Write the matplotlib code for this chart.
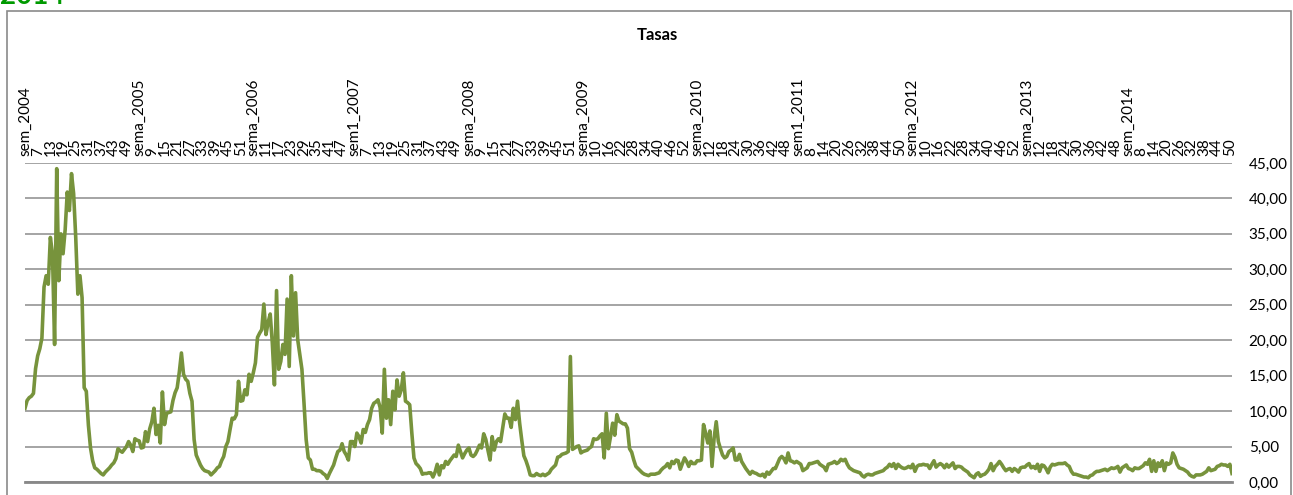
import numpy as np
import matplotlib.pyplot as plt
from matplotlib.patches import Rectangle
from matplotlib.ticker import FuncFormatter

# weekly rates, one block per year label on the axis
tasas_2004 = [10.4, 11.5, 11.9, 12.1, 12.5, 16.0, 17.8, 18.8, 20.3, 27.5,
              29.1, 27.9, 34.5, 32.2, 19.4, 44.2, 28.4, 35.0, 32.2, 35.6,
              40.9, 38.3, 43.5, 40.7, 34.5, 26.5, 29.1, 26.0, 13.3, 12.8,
              8.0, 4.8, 3.0, 2.0, 1.8, 1.5, 1.2, 1.0, 1.4, 1.7,
              2.0, 2.4, 2.7, 3.3, 4.7, 4.4, 4.2, 4.6, 5.0, 5.7,
              5.2, 4.3, 6.1, 5.9]
tasas_2005 = [5.8, 4.8, 4.9, 7.1, 5.7, 7.5, 8.5, 10.4, 6.7, 8.0,
              5.5, 12.7, 8.1, 9.7, 9.8, 9.9, 11.5, 12.6, 13.3, 15.5,
              18.2, 15.2, 14.5, 14.2, 12.5, 11.4, 6.0, 3.8, 3.1, 2.4,
              1.9, 1.6, 1.5, 1.4, 1.0, 1.3, 1.6, 2.0, 2.2, 3.0,
              3.6, 5.0, 5.7, 7.4, 9.0, 8.9, 9.5, 14.2, 11.4, 11.5,
              13.0, 12.3, 15.2, 14.2]
tasas_2006 = [15.4, 16.8, 20.4, 21.0, 21.5, 25.1, 20.8, 22.5, 23.7, 19.6,
              13.7, 27.0, 15.9, 17.0, 19.4, 18.0, 25.8, 16.3, 29.1, 20.6,
              26.7, 20.1, 18.0, 15.9, 11.1, 6.0, 3.4, 3.1, 1.8, 1.8,
              1.6, 1.6, 1.5, 1.2, 1.0, 0.5, 1.2, 1.8, 2.4, 3.4,
              4.3, 4.5, 5.4, 4.3, 3.8, 3.1, 5.7, 5.7]
tasas_2007 = [5.0, 6.9, 6.4, 5.5, 7.4, 7.0, 8.1, 8.8, 10.4, 11.1,
              11.3, 11.6, 10.5, 6.9, 15.9, 9.0, 11.6, 8.1, 12.8, 10.2,
              14.4, 12.1, 13.0, 15.4, 11.4, 11.2, 10.9, 6.9, 3.4, 2.6,
              2.3, 1.9, 1.1, 1.2, 1.2, 1.3, 1.3, 0.7, 1.4, 2.5,
              1.0, 2.3, 2.0, 2.9, 2.5, 3.0, 3.4, 3.8, 3.6, 5.2,
              4.3, 3.4, 4.0, 4.5]
tasas_2008 = [4.8, 3.8, 3.6, 3.9, 4.5, 5.2, 4.8, 6.8, 6.0, 4.5,
              3.1, 6.4, 4.5, 5.7, 6.1, 5.7, 7.6, 9.6, 9.0, 9.0,
              7.7, 10.4, 8.8, 11.4, 8.3, 5.9, 3.7, 3.0, 2.1, 1.0,
              0.9, 0.9, 1.2, 1.0, 0.9, 1.1, 0.9, 1.1, 1.3, 1.8,
              2.1, 2.4, 3.5, 3.6, 3.9, 4.0, 4.1, 4.3, 17.7, 4.6,
              4.8, 5.0, 5.1, 4.1]
tasas_2009 = [4.3, 4.4, 4.5, 4.8, 5.0, 6.1, 6.0, 6.1, 6.5, 6.8,
              3.4, 9.7, 4.7, 6.4, 8.3, 6.6, 9.5, 8.6, 8.4, 8.2,
              8.2, 7.6, 4.7, 4.2, 3.1, 2.2, 1.9, 1.6, 1.3, 1.1,
              1.0, 0.9, 1.1, 1.1, 1.1, 1.2, 1.3, 1.7, 2.0, 2.2,
              2.6, 2.0, 2.9, 2.6, 3.1, 3.0, 1.8, 2.6, 3.4, 2.9,
              2.2, 2.9, 2.6, 2.6]
tasas_2010 = [3.0, 3.0, 3.1, 8.1, 6.9, 5.5, 7.2, 2.2, 6.2, 8.5,
              5.7, 4.7, 3.8, 3.4, 3.6, 4.3, 4.5, 4.8, 3.1, 3.1,
              3.9, 2.9, 2.4, 1.9, 1.5, 1.1, 1.5, 1.3, 1.2, 1.0,
              0.9, 1.1, 0.7, 1.4, 1.1, 1.5, 1.9, 1.9, 2.6, 3.3,
              3.6, 3.3, 2.7, 4.1, 3.0, 2.9, 2.7, 2.9]
tasas_2011 = [2.7, 2.5, 1.6, 1.8, 2.0, 2.6, 2.6, 2.7, 2.8, 2.9,
              2.5, 2.3, 2.1, 1.6, 2.5, 2.6, 2.7, 2.9, 2.6, 2.8,
              3.2, 3.0, 3.2, 2.5, 2.0, 1.8, 1.6, 1.5, 1.4, 1.3,
              0.9, 0.7, 1.0, 1.1, 1.0, 1.0, 1.2, 1.3, 1.4, 1.5,
              1.6, 1.9, 2.1, 2.5, 2.2, 2.6, 1.9, 2.5, 2.2, 2.0,
              1.9, 2.0, 2.2, 2.0]
tasas_2012 = [2.5, 1.5, 2.2, 2.4, 2.4, 2.5, 2.4, 2.4, 1.9, 2.5,
              3.0, 2.1, 2.4, 2.6, 2.4, 2.0, 2.5, 2.1, 2.4, 2.7,
              1.9, 2.2, 2.2, 2.1, 1.8, 1.6, 1.4, 1.0, 0.8, 0.6,
              1.1, 1.3, 0.8, 1.0, 1.1, 1.4, 1.8, 2.6, 1.6, 2.2,
              2.5, 2.9, 2.5, 2.0, 1.6, 1.8, 1.9, 1.5, 1.9, 1.7,
              1.4, 2.0, 2.1, 2.1]
tasas_2013 = [2.4, 2.6, 2.0, 2.2, 1.9, 2.5, 1.5, 2.4, 2.3, 1.9,
              1.3, 2.1, 2.5, 2.4, 2.5, 2.6, 2.6, 2.6, 2.7, 2.4,
              2.2, 1.5, 1.1, 1.1, 1.0, 0.9, 0.8, 0.7, 0.7, 0.6,
              0.9, 1.0, 1.3, 1.5, 1.5, 1.6, 1.7, 1.8, 1.6, 1.8,
              2.0, 1.9, 2.0, 2.2, 1.4, 2.0, 2.2, 2.4]
tasas_2014 = [1.9, 1.8, 1.6, 2.0, 1.9, 1.9, 2.1, 2.3, 2.7, 2.5,
              3.2, 1.5, 3.0, 1.5, 2.7, 2.2, 3.0, 1.6, 2.7, 2.5,
              2.7, 4.1, 3.5, 2.5, 2.0, 1.9, 1.8, 1.6, 1.4, 1.0,
              0.8, 0.7, 1.0, 1.0, 1.0, 1.1, 1.3, 1.5, 2.0, 1.6,
              1.7, 1.8, 2.2, 2.3, 2.5, 2.4, 2.4, 2.2, 2.5, 1.2]

# every 6th category label, as shown on the axis
week_ticks = ["sem_2004", "7", "13", "19", "25", "31", "37", "43", "49",
              "sema_2005", "9", "15", "21", "27", "33", "39", "45", "51",
              "sema_2006", "11", "17", "23", "29", "35", "41", "47",
              "sem1_2007", "7", "13", "19", "25", "31", "37", "43", "49",
              "sema_2008", "9", "15", "21", "27", "33", "39", "45", "51",
              "sema_2009", "10", "16", "22", "28", "34", "40", "46", "52",
              "sema_2010", "12", "18", "24", "30", "36", "42", "48",
              "sem1_2011", "8", "14", "20", "26", "32", "38", "44", "50",
              "sema_2012", "10", "16", "22", "28", "34", "40", "46", "52",
              "sema_2013", "12", "18", "24", "30", "36", "42", "48",
              "sem_2014", "8", "14", "20", "26", "32", "38", "44", "50"]

tasas = np.concatenate([tasas_2004, tasas_2005, tasas_2006, tasas_2007,
                        tasas_2008, tasas_2009, tasas_2010, tasas_2011,
                        tasas_2012, tasas_2013, tasas_2014])
x = np.arange(len(tasas))

plt.rcParams['font.family'] = ['Lato', 'DejaVu Sans']

W, H = 1293, 495
fig = plt.figure(figsize=(W / 100, H / 100), dpi=100)
ax = fig.add_axes([25 / W, 13 / H, 1207 / W, 319 / H])

ax.plot(x, tasas, color='#77933C', linewidth=2.6, solid_joinstyle='round')

ax.set_xlim(0, len(tasas) - 1)
ax.set_ylim(0, 45)
ax.set_yticks(np.arange(0, 46, 5))
ax.yaxis.tick_right()
ax.yaxis.set_major_formatter(FuncFormatter(lambda v, p: f"{v:.2f}".replace('.', ',')))
ax.grid(axis='y', color='#8c8c8c', linewidth=1.1)
ax.set_axisbelow(True)

ax.xaxis.tick_top()
ax.set_xticks(np.arange(0, len(tasas), 6))
ax.set_xticklabels(week_ticks, rotation=90, fontsize=11)
ax.tick_params(axis='x', length=0, pad=5)
ax.tick_params(axis='y', length=0, pad=12, labelsize=11)

for s in ['top', 'left', 'right']:
    ax.spines[s].set_visible(False)
ax.spines['bottom'].set_color('#888888')
ax.spines['bottom'].set_linewidth(2)

fig.text(657 / W, 1 - 35 / H, "Tasas", ha='center', va='center',
         fontsize=12, fontweight='bold')
fig.text(0.0, 1 - 3.5 / H, "2014", ha='left', va='baseline',
         fontsize=20, fontweight='bold', color='#009a00')

fig.patches.append(Rectangle((7 / W, -0.1), (1291 - 7) / W, 1.1 - 10.5 / H,
                             transform=fig.transFigure, fill=False,
                             edgecolor='#8a8a8a', linewidth=1.2))

fig.savefig('out.png', dpi=100)
